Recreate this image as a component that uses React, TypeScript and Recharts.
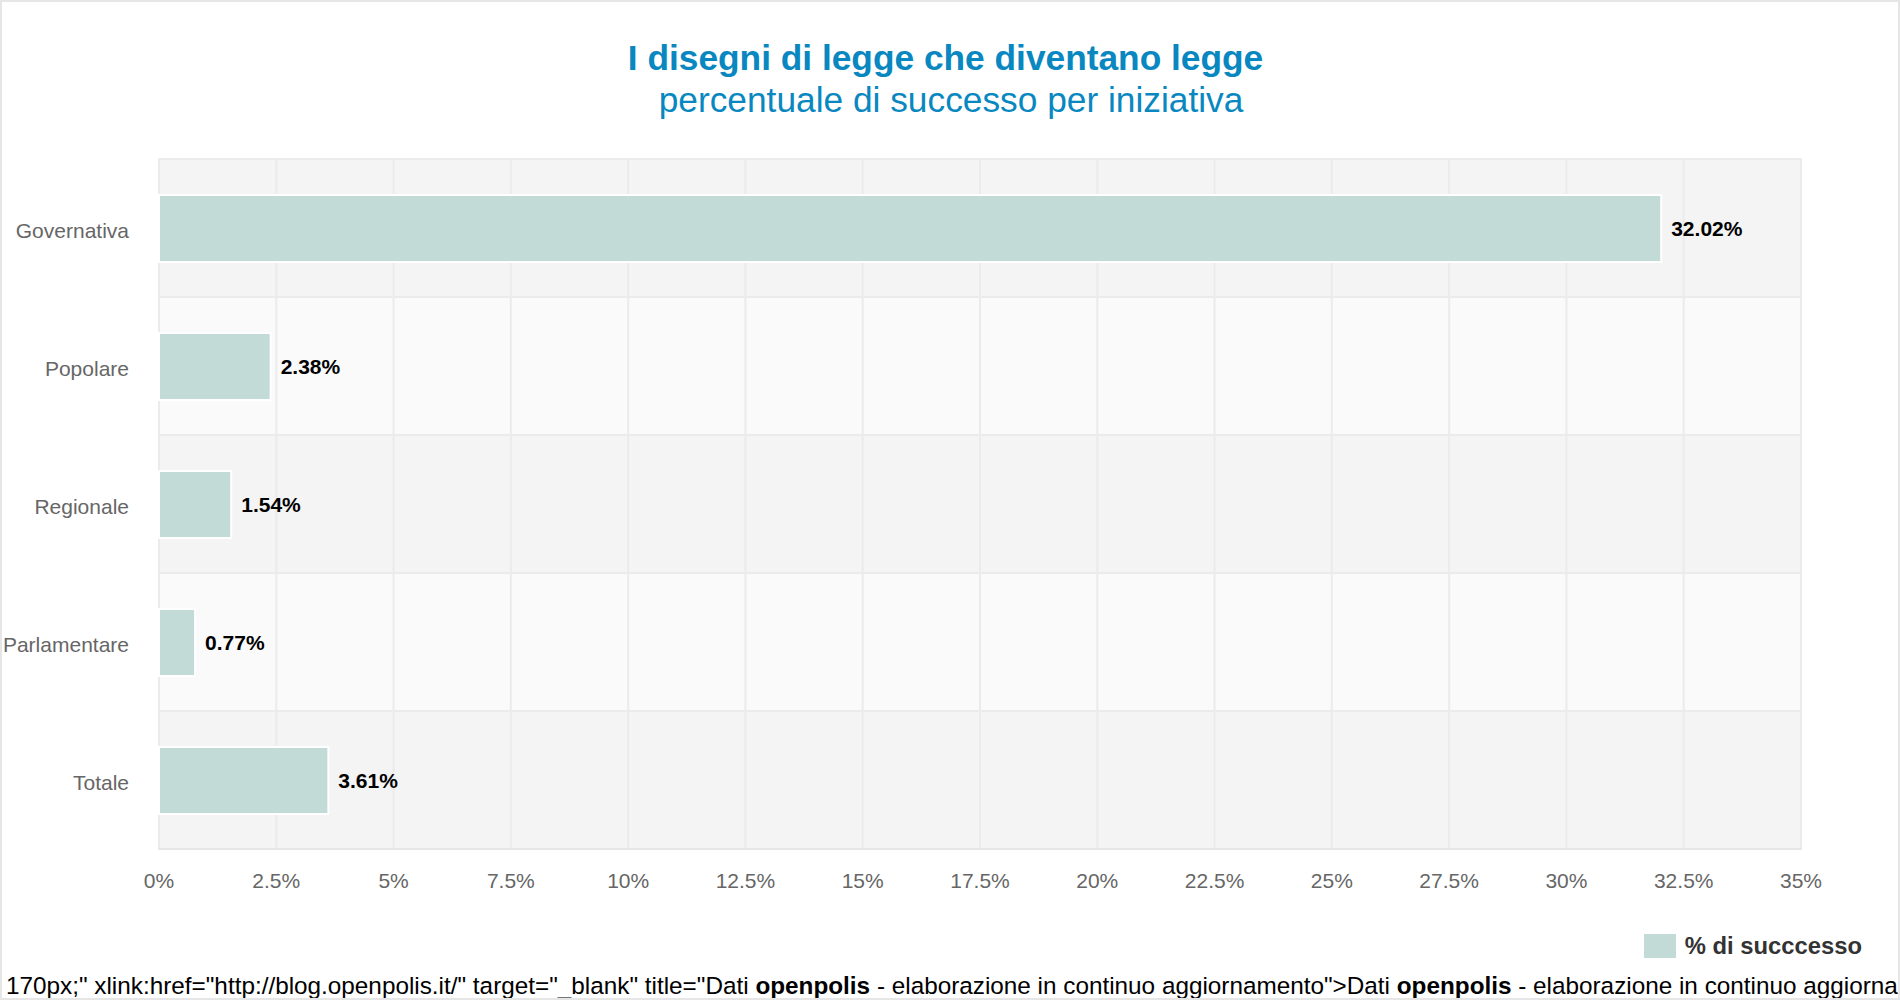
import {
  Bar,
  BarChart,
  LabelList,
  Legend,
  ReferenceArea,
  ReferenceLine,
  XAxis,
  YAxis,
} from "recharts";

const CATEGORIES = ["Governativa", "Popolare", "Regionale", "Parlamentare", "Totale"];
const SUCCESS = [32.02, 2.38, 1.54, 0.77, 3.61];
const X_TICKS = [0, 2.5, 5, 7.5, 10, 12.5, 15, 17.5, 20, 22.5, 25, 27.5, 30, 32.5, 35];
const SERIES_NAME = "% di succcesso";

const FONT = "'Liberation Sans', Arial, sans-serif";
const BAR_COLOR = "#c2dbd7";

const data = CATEGORIES.map((name, i) => ({ name, value: SUCCESS[i] }));

function LegendContent() {
  return (
    <div style={{ display: "flex", alignItems: "center", justifyContent: "flex-end" }}>
      <span style={{ width: 32, height: 24, background: BAR_COLOR, display: "inline-block" }} />
      <span
        style={{
          marginLeft: 9,
          fontFamily: FONT,
          fontSize: 23.8,
          fontWeight: "bold",
          color: "#333333",
        }}
      >
        {SERIES_NAME}
      </span>
    </div>
  );
}

export default function App() {
  return (
    <div
      style={{
        position: "absolute",
        top: 0,
        left: 0,
        width: 1900,
        height: 1000,
        boxSizing: "border-box",
        border: "2px solid #e6e6e6",
        background: "#fff",
        overflow: "hidden",
        fontFamily: FONT,
      }}
    >
      <div
        style={{
          position: "absolute",
          top: 36,
          left: 0,
          width: 1887,
          textAlign: "center",
          color: "#0887c0",
          fontSize: 35.3,
          fontWeight: "bold",
          lineHeight: "40px",
        }}
      >
        I disegni di legge che diventano legge
      </div>
      <div
        style={{
          position: "absolute",
          top: 78,
          left: 0,
          width: 1898,
          textAlign: "center",
          color: "#0887c0",
          fontSize: 35.3,
          lineHeight: "40px",
        }}
      >
        percentuale di successo per iniziativa
      </div>
      <div style={{ position: "absolute", top: -2, left: -2 }}>
        <BarChart
          width={1900}
          height={1000}
          data={data}
          layout="vertical"
          barSize={67}
          margin={{ top: 159, right: 99, bottom: 56, left: 29 }}
        >
          {data.map((d, i) => (
            <ReferenceArea
              key={d.name}
              y1={d.name}
              y2={d.name}
              fill={i % 2 === 0 ? "#f4f4f4" : "#fafafa"}
              fillOpacity={1}
              stroke="#ebebeb"
              strokeWidth={2}
              ifOverflow="visible"
              zIndex={-200}
            />
          ))}
          {X_TICKS.map((t) => (
            <ReferenceLine key={t} x={t} stroke="#ebebeb" strokeWidth={2} zIndex={-150} />
          ))}
          <XAxis
            type="number"
            domain={[0, 35]}
            ticks={X_TICKS}
            interval={0}
            tickFormatter={(v) => `${v}%`}
            tick={{ fill: "#666666", fontSize: 21, fontFamily: FONT }}
            tickLine={false}
            tickSize={0}
            tickMargin={24}
            axisLine={{ stroke: "#e6e6e6", strokeWidth: 2 }}
            height={60}
          />
          <YAxis
            type="category"
            dataKey="name"
            tick={{ fill: "#666666", fontSize: 21, fontFamily: FONT, dy: 3 }}
            tickLine={false}
            tickSize={0}
            tickMargin={30}
            axisLine={false}
            width={130}
          />
          <Legend
            verticalAlign="bottom"
            align="right"
            height={35}
            content={<LegendContent />}
            wrapperStyle={{ right: 38, bottom: 33, width: "auto", left: "auto" }}
          />
          <Bar
            dataKey="value"
            name={SERIES_NAME}
            fill={BAR_COLOR}
            stroke="#ffffff"
            strokeWidth={2}
            isAnimationActive={false}
          >
            <LabelList
              dataKey="value"
              position="right"
              offset={10}
              formatter={(v: number) => `${v.toFixed(2)}%`}
              style={{ fill: "#000000", fontSize: 21, fontWeight: "bold", fontFamily: FONT }}
            />
          </Bar>
        </BarChart>
      </div>
      <div
        style={{
          position: "absolute",
          left: 4,
          top: 969,
          whiteSpace: "nowrap",
          fontSize: 24.3,
          lineHeight: "30px",
          color: "#000",
        }}
      >
        170px;" xlink:href="http://blog.openpolis.it/" target="_blank" title="Dati{" "}
        <b>openpolis</b> - elaborazione in continuo aggiornamento"&gt;Dati <b>openpolis</b> -
        elaborazione in continuo aggiornamento
      </div>
    </div>
  );
}
